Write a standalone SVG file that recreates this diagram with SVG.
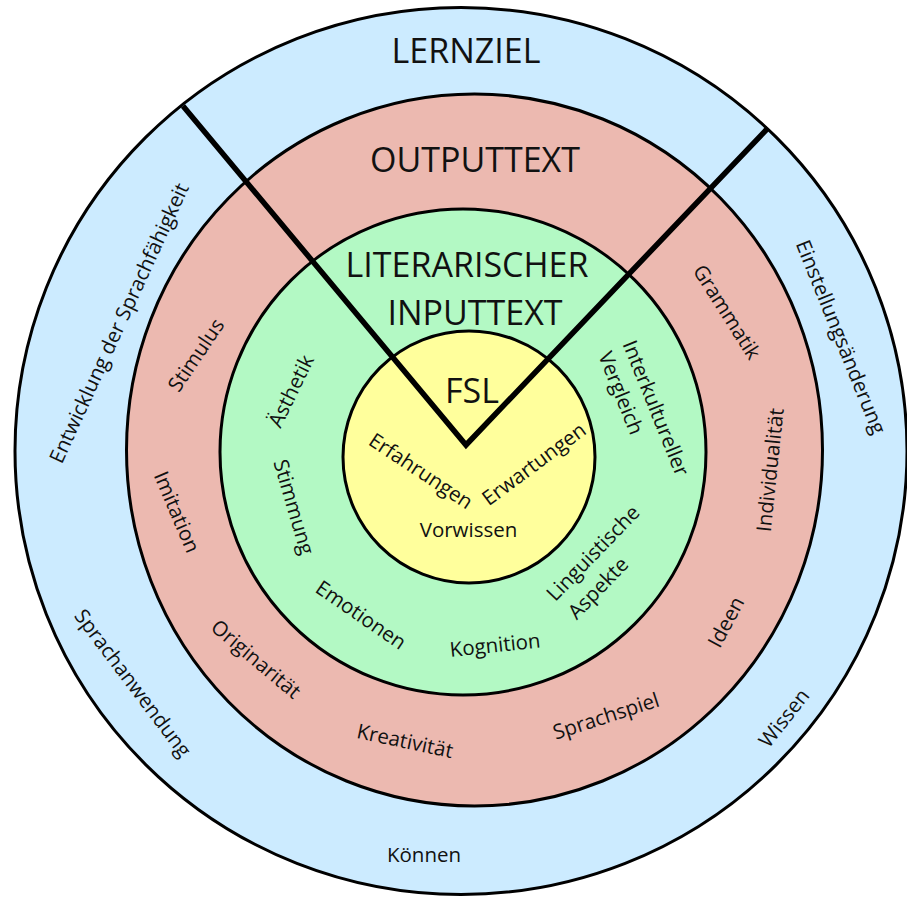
<svg xmlns="http://www.w3.org/2000/svg" width="907" height="897" viewBox="0 0 907 897">
  <style>
    .ring { stroke: #000; stroke-width: 3; }
    .title { font-family: "Open Sans", "Liberation Sans", sans-serif; font-size: 34px; fill: #111; text-anchor: middle; }
    .lbl { font-family: "Open Sans", "Liberation Sans", sans-serif; font-size: 20.5px; fill: #111; text-anchor: middle; }
    .divider { fill: none; stroke: #000; stroke-width: 5.5; stroke-linejoin: miter; stroke-linecap: butt; }
  </style>
  <rect width="907" height="897" fill="#fff"/>

  <!-- Outer ring: Lernziel -->
  <g id="lernziel">
    <ellipse class="ring" cx="461" cy="451" rx="446" ry="443.5" fill="#CCEBFF"/>
  </g>

  <!-- Second ring: Outputtext -->
  <g id="outputtext">
    <ellipse class="ring" cx="474.5" cy="450" rx="348" ry="356" fill="#ECB9B0"/>
  </g>

  <!-- Third ring: literarischer Inputtext -->
  <g id="inputtext">
    <circle class="ring" cx="463" cy="452" r="243" fill="#B3F9C4"/>
  </g>

  <!-- Core: FSL -->
  <g id="fsl">
    <circle class="ring" cx="469" cy="457" r="126" fill="#FFFF9C"/>
  </g>

  <!-- V-shaped dividers -->
  <g id="connectors">
    <polyline class="divider" points="183,106 466,445 768,128"/>
  </g>

  <!-- Labels: outer ring -->
  <g id="lernziel-labels">
    <text class="title" x="466" y="63">LERNZIEL</text>
    <text class="lbl" transform="translate(119,323) rotate(-65.3)" dy=".35em">Entwicklung der Sprachfähigkeit</text>
    <text class="lbl" transform="translate(841,337) rotate(68)" dy=".35em">Einstellungsänderung</text>
    <text class="lbl" transform="translate(133,683) rotate(53)" dy=".35em">Sprachanwendung</text>
    <text class="lbl" transform="translate(784,718) rotate(-52)" dy=".35em">Wissen</text>
    <text class="lbl" x="424" y="862">Können</text>
  </g>

  <!-- Labels: output ring -->
  <g id="outputtext-labels">
    <text class="title" x="475" y="172">OUTPUTTEXT</text>
    <text class="lbl" transform="translate(196,355) rotate(-56)" dy=".35em">Stimulus</text>
    <text class="lbl" transform="translate(177,512) rotate(67)" dy=".35em">Imitation</text>
    <text class="lbl" transform="translate(256,659) rotate(40)" dy=".35em">Originarität</text>
    <text class="lbl" transform="translate(405,741) rotate(12)" dy=".35em">Kreativität</text>
    <text class="lbl" transform="translate(606,716) rotate(-18)" dy=".35em">Sprachspiel</text>
    <text class="lbl" transform="translate(726,622) rotate(-62)" dy=".35em">Ideen</text>
    <text class="lbl" transform="translate(770,470) rotate(-84)" dy=".35em">Individualität</text>
    <text class="lbl" transform="translate(727,312) rotate(57.7)" dy=".35em">Grammatik</text>
  </g>

  <!-- Labels: input ring -->
  <g id="inputtext-labels">
    <text class="title" x="467" y="277">LITERARISCHER</text>
    <text class="title" x="475" y="325">INPUTTEXT</text>
    <text class="lbl" transform="translate(291,391) rotate(-64)" dy=".35em">Ästhetik</text>
    <text class="lbl" transform="translate(294,507) rotate(73.6)" dy=".35em">Stimmung</text>
    <text class="lbl" transform="translate(361,615) rotate(34.6)" dy=".35em">Emotionen</text>
    <text class="lbl" transform="translate(495,645) rotate(-6)" dy=".35em">Kognition</text>
    <text class="lbl" transform="translate(593,553) rotate(-46)" dy=".35em">Linguistische</text>
    <text class="lbl" transform="translate(598,588) rotate(-46)" dy=".35em">Aspekte</text>
    <text class="lbl" transform="translate(656,408) rotate(68)" dy=".35em">Interkultureller</text>
    <text class="lbl" transform="translate(621,393) rotate(68)" dy=".35em">Vergleich</text>
  </g>

  <!-- Labels: core -->
  <g id="fsl-labels">
    <text class="title" x="472" y="403">FSL</text>
    <text class="lbl" transform="translate(421,471) rotate(33.5)" dy=".35em">Erfahrungen</text>
    <text class="lbl" transform="translate(534,464) rotate(-36.6)" dy=".35em">Erwartungen</text>
    <text class="lbl" x="468.5" y="537">Vorwissen</text>
  </g>
</svg>
